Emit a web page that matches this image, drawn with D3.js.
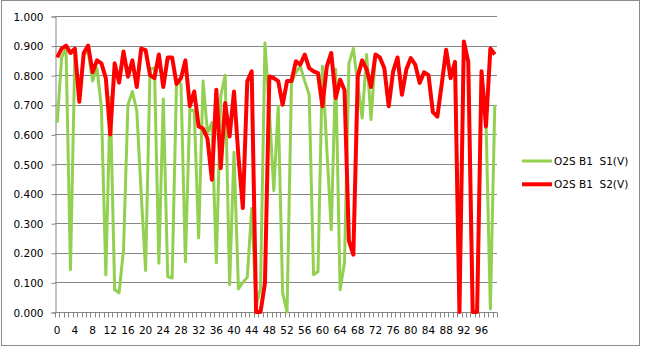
<!DOCTYPE html>
<html><head><meta charset="utf-8">
<script src="https://cdn.jsdelivr.net/npm/d3@7"></script>
<style>html,body{margin:0;padding:0;background:#fff;}svg{display:block;}</style>
</head><body><svg id="c" width="646" height="348"></svg>
<script>
const categories = d3.range(0, 100);
const yTicks = [0, 0.1, 0.2, 0.3, 0.4, 0.5, 0.6, 0.7, 0.8, 0.9, 1.0];
const xTickLabels = [0, 4, 8, 12, 16, 20, 24, 28, 32, 36, 40, 44, 48, 52, 56, 60, 64, 68, 72, 76, 80, 84, 88, 92, 96];
const seriesNames = ["O2S B1  S1(V)", "O2S B1  S2(V)"];
const s1 = [0.64, 0.86, 0.89, 0.143, 0.875, 0.72, 0.87, 0.88, 0.78, 0.825,
  0.69, 0.125, 0.725, 0.075, 0.065, 0.21, 0.70, 0.745, 0.68, 0.40,
  0.14, 0.82, 0.825, 0.165, 0.72, 0.12, 0.115, 0.78, 0.77, 0.17,
  0.684, 0.68, 0.25, 0.78, 0.605, 0.64, 0.166, 0.73, 0.80, 0.092,
  0.54, 0.078, 0.10, 0.117, 0.35, 0.02, 0.08, 0.909, 0.68, 0.41,
  0.695, 0.064, 0.0, 0.774, 0.81, 0.83, 0.78, 0.734, 0.126, 0.137,
  0.83, 0.55, 0.278, 0.82, 0.075, 0.166, 0.84, 0.89, 0.77, 0.655,
  0.87, 0.65, 0.87, 0.86, 0.824, 0.695, 0.813, 0.86, 0.734, 0.82,
  0.858, 0.836, 0.774, 0.81, 0.80, 0.675, 0.66, 0.77, 0.886, 0.79,
  0.845, 0, 0.914, 0.845, 0, 0, 0.81, 0.65, 0.01, 0.70];
const s2 = [0.86, 0.89, 0.90, 0.875, 0.89, 0.71, 0.875, 0.90, 0.81, 0.85,
  0.84, 0.79, 0.60, 0.84, 0.775, 0.88, 0.795, 0.85, 0.76, 0.89,
  0.885, 0.80, 0.79, 0.87, 0.76, 0.86, 0.86, 0.77, 0.79, 0.85,
  0.695, 0.745, 0.627, 0.62, 0.585, 0.447, 0.751, 0.486, 0.706, 0.593,
  0.745, 0.526, 0.351, 0.779, 0.813, 0, 0, 0.098, 0.796, 0.79,
  0.78, 0.70, 0.78, 0.78, 0.847, 0.836, 0.87, 0.824, 0.813, 0.807,
  0.695, 0.83, 0.875, 0.723, 0.785, 0.75, 0.24, 0.194, 0.796, 0.85,
  0.82, 0.76, 0.87, 0.86, 0.824, 0.695, 0.813, 0.86, 0.734, 0.82,
  0.858, 0.836, 0.774, 0.81, 0.80, 0.675, 0.66, 0.77, 0.886, 0.79,
  0.845, 0, 0.914, 0.845, 0, 0, 0.813, 0.627, 0.89, 0.87];
const colors = ["#92D050", "#FF0000"];

const svg = d3.select("#c");
const L = 55, R = 497, T = 16, B = 312;
const font = "'DejaVu Sans', Verdana, sans-serif";

svg.append("rect").attr("x", 1.5).attr("y", 0.5).attr("width", 638).attr("height", 345)
  .attr("fill", "#fff").attr("stroke", "#8c8c8c");

const x = d3.scaleBand().domain(categories).range([L, R]).padding(0);
const y = d3.scaleLinear().domain([0, 1]).range([B, T]);
const cx = i => x(i) + x.bandwidth() / 2;

// gridlines
svg.append("g").selectAll("line").data(yTicks.slice(1)).join("line")
  .attr("x1", L).attr("x2", R)
  .attr("y1", d => Math.round(y(d)) + 0.5).attr("y2", d => Math.round(y(d)) + 0.5)
  .attr("stroke", "#868686").attr("stroke-width", 1);

// y axis
const yAxis = d3.axisLeft(y).tickValues(yTicks).tickFormat(d3.format(".3f")).tickSize(4).tickPadding(8);
const gy = svg.append("g").attr("transform", `translate(${L + 0.5},0.5)`).call(yAxis);
gy.selectAll("path,line").attr("stroke", "#868686");
gy.selectAll("text").attr("font-family", font).attr("font-size", "10.5px").attr("fill", "#000").attr("dy", "0.34em");

// x axis: ticks between categories
const gx = svg.append("g").attr("transform", `translate(0,${B + 0.5})`);
gx.append("line").attr("x1", L).attr("x2", R).attr("stroke", "#868686");
const bounds = categories.map(i => x(i)).concat([R]);
gx.selectAll("line.t").data(bounds).join("line").attr("class", "t")
  .attr("x1", d => Math.round(d) + 0.5).attr("x2", d => Math.round(d) + 0.5)
  .attr("y1", 0).attr("y2", 5).attr("stroke", "#868686");
gx.selectAll("text").data(xTickLabels).join("text")
  .attr("x", d => cx(d)).attr("y", 21)
  .attr("text-anchor", "middle").attr("font-family", font).attr("font-size", "10.5px").attr("fill", "#000")
  .text(d => d);

// lines
const line = d3.line().x((d, i) => cx(categories[i])).y(d => y(d));
svg.append("path").datum(s1).attr("d", line).attr("fill", "none")
  .attr("stroke", colors[0]).attr("stroke-width", 3).attr("stroke-linejoin", "round");
svg.append("path").datum(s2).attr("d", line).attr("fill", "none")
  .attr("stroke", colors[1]).attr("stroke-width", 4).attr("stroke-linejoin", "round");

// legend
const lg = svg.append("g");
seriesNames.forEach((n, k) => {
  const ly = 161 + k * 23.3;
  lg.append("line").attr("x1", 522).attr("x2", 552).attr("y1", ly).attr("y2", ly)
    .attr("stroke", colors[k]).attr("stroke-width", k ? 4 : 3);
  lg.append("text").attr("x", 554).attr("y", ly).attr("dy", "0.36em")
    .attr("font-family", font).attr("font-size", "10.5px").attr("fill", "#000")
    .attr("xml:space", "preserve").style("white-space", "pre").text(n);
});
</script></body></html>
